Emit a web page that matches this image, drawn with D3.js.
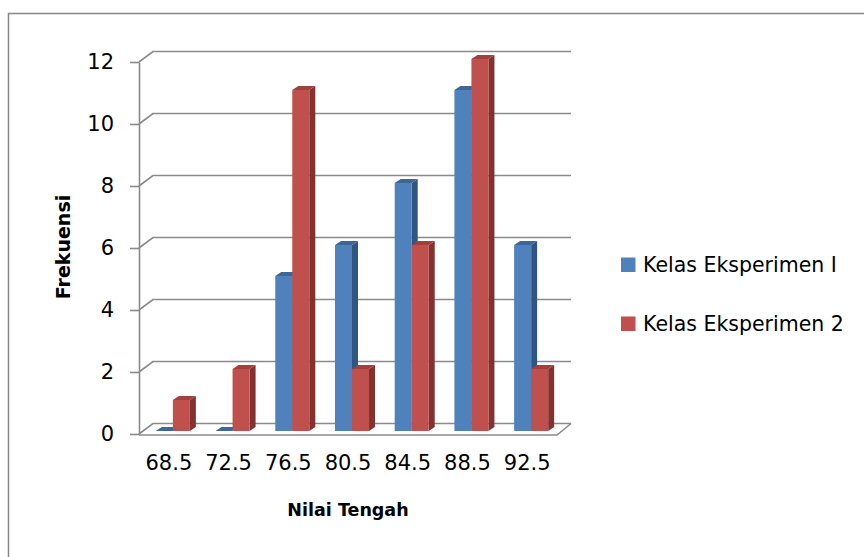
<!DOCTYPE html>
<html>
<head>
<meta charset="utf-8">
<script src="https://cdn.jsdelivr.net/npm/d3@7"></script>
<style>
  html, body { margin: 0; padding: 0; background: #fff; }
  svg { display: block; font-family: "DejaVu Sans", sans-serif; }
  .tick text { fill: #000; }
</style>
</head>
<body>
<div id="chart"></div>
<script>
const categories = ["68.5", "72.5", "76.5", "80.5", "84.5", "88.5", "92.5"];
const seriesNames = ["Kelas Eksperimen I", "Kelas Eksperimen 2"];
const eksperimen1 = [0, 0, 5, 6, 8, 11, 6];
const eksperimen2 = [1, 2, 11, 2, 6, 12, 2];
const yTicks = [0, 2, 4, 6, 8, 10, 12];

class Bar3DVis {
  constructor(_parentElement) {
    this.parentElement = _parentElement;
    this.initVis();
  }

  initVis() {
    let vis = this;

    vis.width = 864;
    vis.height = 557;

    // front plane of the plot, and how far back the walls go
    vis.frontLeft = 139;
    vis.frontRight = 557;
    vis.wall = { dx: 14, dy: -10.5 };
    // bars sit a bit behind the front plane, with their own depth
    vis.barShift = { dx: 4, dy: -3.5 };
    vis.barDepth = { dx: 6, dy: -4 };

    vis.colors = [
      { front: "#4F81BD", top: "#3D6799", side: "#30557F" },
      { front: "#C0504D", top: "#A2403D", side: "#843230" },
    ];

    vis.svg = d3
      .select("#" + vis.parentElement)
      .append("svg")
      .attr("width", vis.width)
      .attr("height", vis.height);

    vis.svg
      .append("rect")
      .attr("x", 8.5)
      .attr("y", 13.5)
      .attr("width", 900)
      .attr("height", 600)
      .attr("fill", "none")
      .attr("stroke", "#878787")
      .attr("stroke-width", 1.5);

    vis.x = d3
      .scaleBand()
      .domain(categories)
      .range([vis.frontLeft, vis.frontRight])
      .paddingInner(0.43)
      .paddingOuter(0.215);

    vis.xGroup = d3
      .scaleBand()
      .domain(seriesNames)
      .range([0, vis.x.bandwidth()]);

    vis.y = d3.scaleLinear().domain([0, 12]).range([434, 62]);

    vis.wrangleData();
  }

  wrangleData() {
    let vis = this;

    vis.displayData = categories.map((c, i) => ({
      category: c,
      values: [eksperimen1[i], eksperimen2[i]].map((v, j) => ({
        series: seriesNames[j],
        index: j,
        value: v,
      })),
    }));

    vis.updateVis();
  }

  updateVis() {
    let vis = this;
    const w = vis.wall;

    // walls: left wall diagonals + back wall lines
    vis.svg
      .append("g")
      .attr("class", "grid")
      .selectAll("path")
      .data(yTicks)
      .join("path")
      .attr("fill", "none")
      .attr("stroke", "#8a8a8a")
      .attr("stroke-width", 1.6)
      .attr("d", (t) => {
        const y = vis.y(t);
        return `M${vis.frontLeft},${y}L${vis.frontLeft + w.dx},${y + w.dy}L${vis.frontRight + w.dx},${y + w.dy}`;
      });

    // floor front edge
    const y0 = vis.y(0) + 1;
    vis.svg
      .append("path")
      .attr("fill", "none")
      .attr("stroke", "#8a8a8a")
      .attr("stroke-width", 1.6)
      .attr("d", `M${vis.frontLeft},${y0}L${vis.frontRight},${y0}L${vis.frontRight + w.dx},${y0 + w.dy - 1}`);

    // y axis
    const yAxis = vis.svg
      .append("g")
      .attr("transform", `translate(${vis.frontLeft},0)`)
      .call(
        d3.axisLeft(vis.y).tickValues(yTicks).tickSize(9).tickSizeOuter(0).tickPadding(16)
      );
    yAxis.selectAll("path, line").attr("stroke", "#8a8a8a").attr("stroke-width", 1.6);
    yAxis.selectAll("text").attr("font-size", 21).attr("font-family", "DejaVu Sans");

    // x axis labels
    const xAxis = vis.svg
      .append("g")
      .attr("transform", `translate(0,${vis.y(0)})`)
      .call(d3.axisBottom(vis.x).tickSize(0).tickPadding(21));
    xAxis.select(".domain").remove();
    xAxis.selectAll("text").attr("font-size", 21).attr("font-family", "DejaVu Sans");

    // bars
    const bs = vis.barShift;
    const bd = vis.barDepth;
    const yb0 = vis.y(0) - 3;
    const bar = vis.svg
      .append("g")
      .selectAll("g.cat")
      .data(vis.displayData)
      .join("g")
      .attr("class", "cat")
      .selectAll("g.bar")
      .data((d) => d.values.map((v) => ({ ...v, category: d.category })))
      .join("g")
      .attr("class", "bar");

    const geo = (d) => {
      const x0 = vis.x(d.category) + vis.xGroup(d.series) + bs.dx;
      const x1 = x0 + vis.xGroup.bandwidth();
      const yt = yb0 - (vis.y(0) - vis.y(d.value));
      return { x0, x1, yt, yb: yb0 };
    };

    bar
      .append("path")
      .attr("fill", (d) => vis.colors[d.index].side)
      .attr("d", (d) => {
        const g = geo(d);
        return `M${g.x1},${g.yb}L${g.x1 + bd.dx},${g.yb + bd.dy}L${g.x1 + bd.dx},${g.yt + bd.dy}L${g.x1},${g.yt}Z`;
      });

    bar
      .append("path")
      .attr("fill", (d) => vis.colors[d.index].top)
      .attr("d", (d) => {
        const g = geo(d);
        return `M${g.x0},${g.yt}L${g.x0 + bd.dx},${g.yt + bd.dy}L${g.x1 + bd.dx},${g.yt + bd.dy}L${g.x1},${g.yt}Z`;
      });

    bar
      .append("rect")
      .attr("fill", (d) => vis.colors[d.index].front)
      .attr("x", (d) => geo(d).x0)
      .attr("y", (d) => geo(d).yt)
      .attr("width", vis.xGroup.bandwidth())
      .attr("height", (d) => geo(d).yb - geo(d).yt);

    // axis titles
    vis.svg
      .append("text")
      .attr("transform", "translate(70,247) rotate(-90)")
      .attr("text-anchor", "middle")
      .attr("font-weight", "bold")
      .attr("font-size", 19)
      .text("Frekuensi");

    vis.svg
      .append("text")
      .attr("x", 348)
      .attr("y", 516)
      .attr("text-anchor", "middle")
      .attr("font-weight", "bold")
      .attr("font-size", 17.5)
      .text("Nilai Tengah");

    // legend
    const legend = vis.svg
      .append("g")
      .selectAll("g")
      .data(seriesNames)
      .join("g")
      .attr("transform", (d, i) => `translate(621,${257.5 + i * 59})`);

    legend
      .append("rect")
      .attr("width", 14.5)
      .attr("height", 14.5)
      .attr("fill", (d, i) => vis.colors[i].front);

    legend
      .append("text")
      .attr("x", 22)
      .attr("y", 14)
      .attr("font-size", 20.5)
      .text((d) => d);
  }
}

new Bar3DVis("chart");
</script>
</body>
</html>
